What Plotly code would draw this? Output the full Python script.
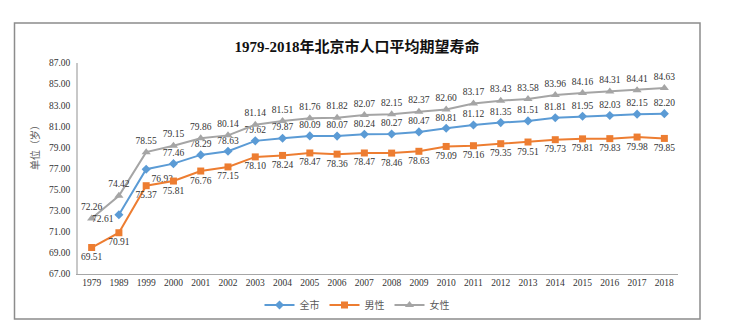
import plotly.graph_objects as go

years = ["1979", "1989", "1999", "2000", "2001", "2002", "2003", "2004", "2005", "2006", "2007",
         "2008", "2009", "2010", "2011", "2012", "2013", "2014", "2015", "2016", "2017", "2018"]

city_total = [None, 72.61, 76.93, 77.46, 78.29, 78.63, 79.62, 79.87, 80.09, 80.07, 80.24,
              80.27, 80.47, 80.81, 81.12, 81.35, 81.51, 81.81, 81.95, 82.03, 82.15, 82.20]
male = [69.51, 70.91, 75.37, 75.81, 76.76, 77.15, 78.10, 78.24, 78.47, 78.36, 78.47,
        78.46, 78.63, 79.09, 79.16, 79.35, 79.51, 79.73, 79.81, 79.83, 79.98, 79.85]
female = [72.26, 74.42, 78.55, 79.15, 79.86, 80.14, 81.14, 81.51, 81.76, 81.82, 82.07,
          82.15, 82.37, 82.60, 83.17, 83.43, 83.58, 83.96, 84.16, 84.31, 84.41, 84.63]

series_names = ["全市", "男性", "女性"]

W, H = 733, 333
L, R, T, B = 78, 55, 63, 59
pw, ph = W - L - R, H - T - B

serif = "Liberation Serif, Times New Roman, serif"
label_font = dict(family=serif, size=9.5, color="#333333")


def fmt(vals):
    return [("" if v is None else f"{v:.2f}") for v in vals]


# city-wide labels: the first available one is placed separately as an annotation
first_idx = next(i for i, v in enumerate(city_total) if v is not None)
total_text = fmt(city_total)
total_text[first_idx] = ""
total_pos = ["top center"] * len(years)
total_pos[first_idx + 1] = "bottom right"

fig = go.Figure()
fig.add_trace(go.Scatter(
    x=years, y=city_total, name=series_names[0], mode="lines+markers+text",
    line=dict(color="#5B9BD5", width=2),
    marker=dict(symbol="diamond", size=7, color="#5B9BD5"),
    text=total_text, textposition=total_pos, textfont=label_font,
    connectgaps=False,
))
fig.add_trace(go.Scatter(
    x=years, y=male, name=series_names[1], mode="lines+markers+text",
    line=dict(color="#ED7D31", width=2),
    marker=dict(symbol="square", size=7, color="#ED7D31"),
    text=fmt(male), textposition="bottom center", textfont=label_font,
))
fig.add_trace(go.Scatter(
    x=years, y=female, name=series_names[2], mode="lines+markers+text",
    line=dict(color="#A5A5A5", width=2),
    marker=dict(symbol="triangle-up", size=8, color="#A5A5A5"),
    text=fmt(female), textposition="top center", textfont=label_font,
))

# category axis: annotation x is the category index
fig.add_annotation(x=first_idx, y=city_total[first_idx], text=f"{city_total[first_idx]:.2f}",
                   showarrow=False, xanchor="right", yanchor="middle",
                   xshift=-3, yshift=-4, font=label_font)


def px_x(p):
    return (p - L) / pw


def px_y(p):
    return (H - B - p) / ph


# outer chart frame
fig.add_shape(type="rect", xref="paper", yref="paper",
              x0=px_x(14.5), x1=px_x(700), y0=px_y(319), y1=px_y(23),
              line=dict(color="#8c8c8c", width=1.5), fillcolor="rgba(0,0,0,0)")

fig.add_annotation(text="单位（岁）", xref="paper", yref="paper",
                   x=px_x(34), y=px_y(145), xanchor="center", yanchor="middle",
                   showarrow=False, textangle=-90,
                   font=dict(family="Noto Sans CJK SC", size=10, color="#595959"))

fig.update_layout(
    width=W, height=H,
    margin=dict(l=L, r=R, t=T, b=B),
    paper_bgcolor="white", plot_bgcolor="white",
    title=dict(text="<b>1979-2018年北京市人口平均期望寿命</b>",
               x=px_x(357), xref="paper", xanchor="center",
               y=1 - 47 / H, yanchor="middle",
               font=dict(family="Liberation Serif, Noto Sans CJK SC", size=15, color="#111111")),
    showlegend=True,
    legend=dict(orientation="h", x=px_x(357), xanchor="center", y=px_y(305), yanchor="middle",
                bgcolor="rgba(0,0,0,0)",
                font=dict(family="Noto Sans CJK SC", size=10, color="#595959"),
                itemwidth=30, traceorder="normal"),
    hovermode=False,
)
fig.update_xaxes(type="category", categoryorder="array", categoryarray=years,
                 range=[-0.5, len(years) - 0.5],
                 showgrid=False, showline=True, linecolor="#a6a6a6", linewidth=1,
                 ticks="", tickfont=dict(family=serif, size=9.5, color="#333333"))
fig.update_yaxes(range=[67, 87], dtick=2, tick0=67, tickformat=".2f", showgrid=False,
                 showline=True, linecolor="#c8c8c8", linewidth=1.5, ticks="", zeroline=False,
                 ticklabelstandoff=4,
                 tickfont=dict(family=serif, size=9.5, color="#333333"))

fig.write_html("out.html")
